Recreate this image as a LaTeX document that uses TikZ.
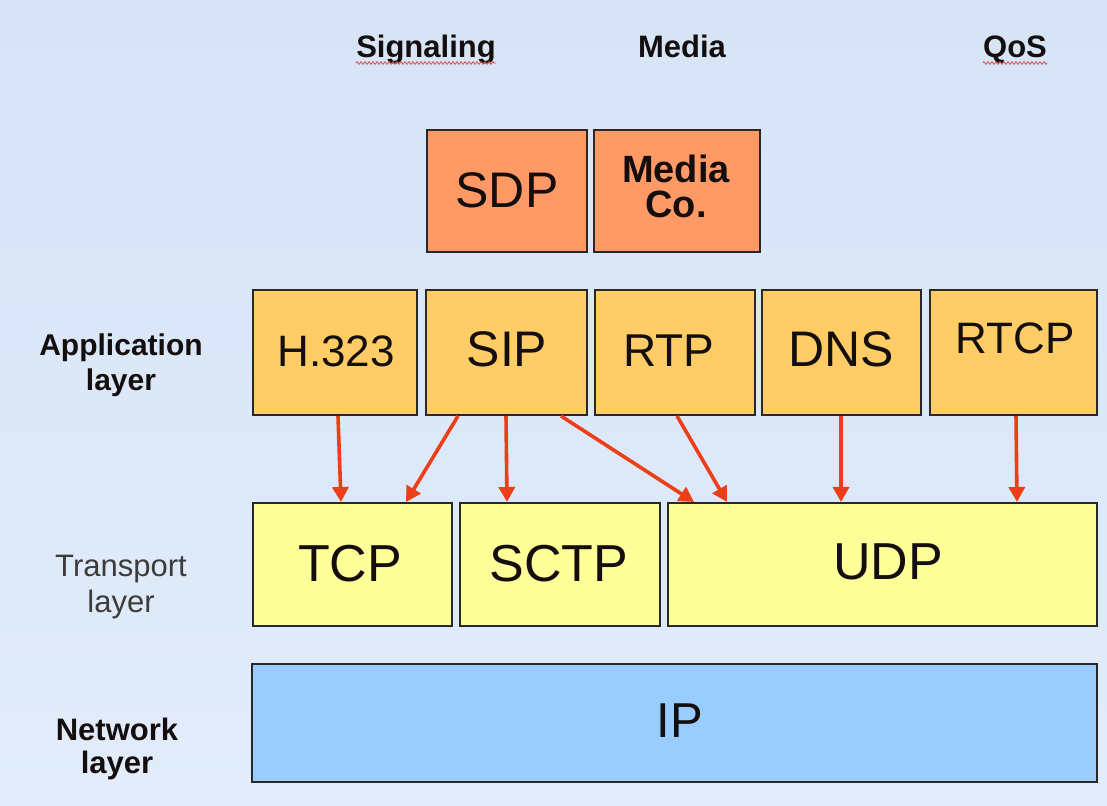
\documentclass[tikz,border=0pt]{standalone}
\usepackage{fontspec}
\setmainfont{Liberation Sans}
\usetikzlibrary{arrows.meta,decorations.pathmorphing}

\definecolor{bgtop}{RGB}{214,228,246}
\definecolor{bgbot}{RGB}{226,236,250}
\definecolor{boxline}{RGB}{40,40,40}
\definecolor{sdpfill}{RGB}{255,153,102}
\definecolor{appfill}{RGB}{255,204,102}
\definecolor{tpfill}{RGB}{255,255,153}
\definecolor{ipfill}{RGB}{153,204,255}
\definecolor{arrowred}{RGB}{236,62,24}
\definecolor{spellred}{RGB}{214,90,90}
\definecolor{txtdark}{RGB}{20,14,14}
\definecolor{txtgrey}{RGB}{60,60,60}

\tikzset{
  box/.style={draw=boxline, line width=2pt, rectangle, inner sep=0pt},
  sdpbox/.style={box, fill=sdpfill},
  appbox/.style={box, fill=appfill},
  tpbox/.style={box, fill=tpfill},
  ipbox/.style={box, fill=ipfill},
  txt/.style={anchor=base, inner sep=0pt, text=txtdark},
  sz/.style={font=\fontsize{#1}{#1}\selectfont},
  head/.style={txt, font=\bfseries\fontsize{31}{31}\selectfont},
  layerlbl/.style={txt, align=center},
  flow/.style={draw=arrowred, line width=3.6pt, -{Triangle[length=15pt,width=16pt]}},
  spell/.style={draw=spellred, line width=0.9pt, decorate,
                decoration={zigzag, amplitude=1.3pt, segment length=4pt}}
}

\begin{document}
\begin{tikzpicture}[x=1pt,y=1pt]
  % background
  \shade[top color=bgtop, bottom color=bgbot] (0,0) rectangle (1107,805);
  \useasboundingbox (0,0) rectangle (1107,805);

  % column headings
  \node[head] (sig) at (426,747) {Signaling};
  \node[head] (med) at (682,747) {Media};
  \node[head] (qos) at (1015,747) {QoS};
  \draw[spell] ([yshift=-5pt]sig.base west) -- ([yshift=-5pt]sig.base east);
  \draw[spell] ([yshift=-5pt]qos.base west) -- ([yshift=-5pt]qos.base east);

  % session description layer
  \node[sdpbox, minimum width=160pt, minimum height=122pt] (sdp) at (507,614) {};
  \node[sdpbox, minimum width=166pt, minimum height=122pt] (mco) at (677,614) {};
  \node[txt, sz=50] at (507,597) {SDP};
  \node[txt, align=center, font=\bfseries\fontsize{38}{35}\selectfont] at (676,587) {Media\\Co.};

  % application layer
  \node[appbox, minimum width=164pt, minimum height=125pt] (h323) at (335,452.5) {};
  \node[appbox, minimum width=161pt, minimum height=125pt] (sip)  at (506.5,452.5) {};
  \node[appbox, minimum width=160pt, minimum height=125pt] (rtp)  at (675,452.5) {};
  \node[appbox, minimum width=159pt, minimum height=125pt] (dns)  at (841.5,452.5) {};
  \node[appbox, minimum width=167pt, minimum height=125pt] (rtcp) at (1013.5,452.5) {};
  \node[txt, sz=44] at (336,438) {H.323};
  \node[txt, sz=50] at (507,438) {SIP};
  \node[txt, sz=46] at (669,438) {RTP};
  \node[txt, sz=50] at (841,438) {DNS};
  \node[txt, sz=44] at (1015,451) {RTCP};

  % transport layer
  \node[tpbox, minimum width=199pt, minimum height=123pt] (tcp)  at (352.5,240.5) {};
  \node[tpbox, minimum width=200pt, minimum height=123pt] (sctp) at (560,240.5) {};
  \node[tpbox, minimum width=429pt, minimum height=123pt] (udp)  at (882.5,240.5) {};
  \node[txt, sz=52] at (350,223) {TCP};
  \node[txt, sz=52] at (559,223) {SCTP};
  \node[txt, sz=52] at (888,225) {UDP};

  % network layer
  \node[ipbox, minimum width=845pt, minimum height=118pt] (ip) at (674.5,82) {};
  \node[txt, sz=49] at (680,67) {IP};

  % layer names (base anchor sits on the last line)
  \node[layerlbl, font=\bfseries\fontsize{30}{35}\selectfont] at (121,414) {Application\\layer};
  \node[layerlbl, text=txtgrey, font=\fontsize{31}{36}\selectfont] at (121,192) {Transport\\layer};
  \node[layerlbl, font=\bfseries\fontsize{31}{33}\selectfont] at (117,31) {Network\\layer};

  % protocol dependencies
  \draw[flow] ([xshift=86pt]h323.south west) -- ([xshift=89pt]tcp.north west);
  \draw[flow] ([xshift=33pt]sip.south west)  -- ([xshift=154pt]tcp.north west);
  \draw[flow] ([xshift=81pt]sip.south west)  -- ([xshift=48pt]sctp.north west);
  \draw[flow] ([xshift=136pt]sip.south west) -- ([xshift=27pt]udp.north west);
  \draw[flow] ([xshift=83pt]rtp.south west)  -- ([xshift=60pt]udp.north west);
  \draw[flow] ([xshift=80pt]dns.south west)  -- ([xshift=174pt]udp.north west);
  \draw[flow] ([xshift=87pt]rtcp.south west) -- ([xshift=350pt]udp.north west);
\end{tikzpicture}
\end{document}
